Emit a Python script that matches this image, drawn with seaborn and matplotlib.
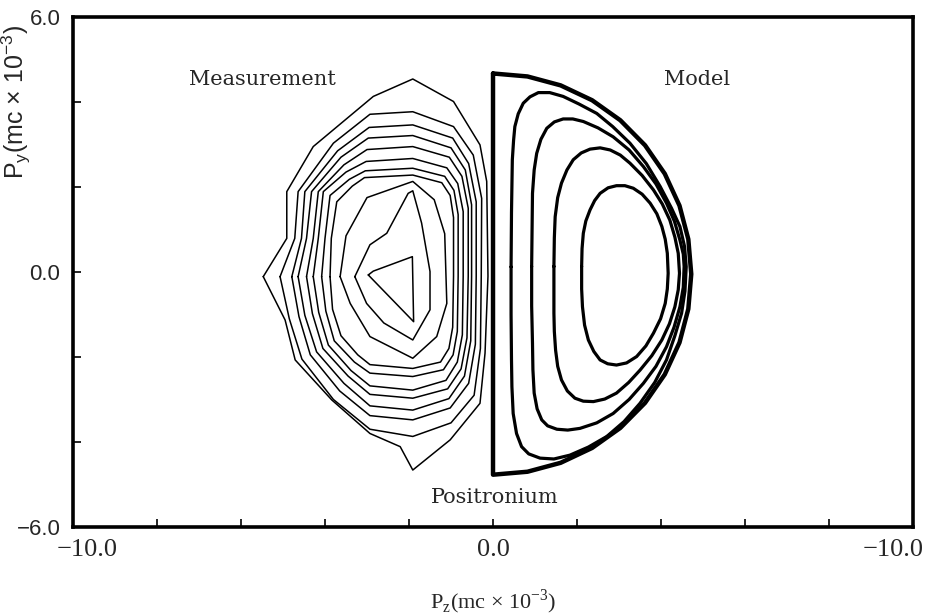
#!/usr/bin/env python3
"""Positronium momentum density: measured contours vs model contours."""

import numpy as np
import pandas as pd
import matplotlib
matplotlib.use("Agg")
import matplotlib.pyplot as plt
import matplotlib.transforms as mtransforms
import seaborn as sns

# Measured contours (left half), outermost first, each polygon closed
meas_x = [
    [-5.47, -4.91, -4.91, -4.28, -2.85, -1.91, -0.94, -0.31, -0.15, -0.12, -0.19, -0.31, -1.02, -1.91, -2.21, -2.93, -3.84, -4.71, -4.95, -5.47],
    [-5.07, -4.72, -4.64, -3.80, -2.93, -1.91, -0.94, -0.47, -0.27, -0.28, -0.30, -0.45, -1.00, -1.91, -2.93, -3.80, -4.55, -4.85, -5.07],
    [-4.79, -4.56, -4.48, -3.70, -2.95, -1.91, -0.96, -0.58, -0.40, -0.40, -0.42, -0.58, -1.02, -1.91, -2.93, -3.65, -4.35, -4.62, -4.79],
    [-4.64, -4.44, -4.32, -3.62, -2.97, -1.91, -1.00, -0.66, -0.51, -0.51, -0.53, -0.68, -1.05, -1.91, -2.93, -3.55, -4.20, -4.48, -4.64],
    [-4.44, -4.28, -4.16, -3.55, -3.00, -1.91, -1.04, -0.74, -0.59, -0.59, -0.62, -0.76, -1.08, -1.91, -2.93, -3.45, -4.05, -4.30, -4.44],
    [-4.28, -4.16, -4.04, -3.50, -3.02, -1.91, -1.10, -0.84, -0.71, -0.71, -0.73, -0.85, -1.12, -1.91, -2.93, -3.38, -3.92, -4.15, -4.28],
    [-4.08, -4.00, -3.88, -3.42, -3.04, -1.91, -1.15, -0.93, -0.83, -0.83, -0.85, -0.95, -1.18, -1.91, -2.93, -3.30, -3.78, -3.98, -4.08],
    [-3.88, -3.85, -3.72, -3.35, -3.06, -1.91, -1.22, -1.02, -0.94, -0.94, -0.96, -1.05, -1.25, -1.91, -2.93, -3.22, -3.62, -3.82, -3.88],
    [-3.64, -3.50, -3.00, -1.91, -1.40, -1.15, -1.10, -1.34, -1.91, -2.93, -3.40, -3.64],
    [-3.29, -2.93, -2.53, -2.02, -1.91, -1.70, -1.50, -1.50, -1.91, -2.60, -3.01, -3.29],
    [-2.97, -2.85, -1.92, -1.89, -2.97],
]
meas_y = [
    [-0.11, 0.79, 1.89, 2.95, 4.13, 4.54, 4.01, 2.99, 2.13, -0.10, -1.91, -3.09, -3.95, -4.66, -4.11, -3.80, -3.01, -2.07, -1.13, -0.11],
    [-0.11, 0.79, 1.89, 3.03, 3.71, 3.77, 3.42, 2.75, 1.73, -0.10, -1.80, -2.90, -3.55, -3.87, -3.70, -3.00, -2.05, -1.10, -0.11],
    [-0.11, 0.79, 1.89, 2.85, 3.40, 3.46, 3.15, 2.55, 1.65, -0.10, -1.70, -2.62, -3.20, -3.48, -3.38, -2.80, -1.95, -1.05, -0.11],
    [-0.11, 0.79, 1.89, 2.70, 3.15, 3.21, 2.92, 2.40, 1.58, -0.10, -1.62, -2.45, -2.98, -3.25, -3.15, -2.62, -1.88, -1.02, -0.11],
    [-0.11, 0.79, 1.89, 2.52, 2.88, 2.95, 2.70, 2.25, 1.50, -0.10, -1.55, -2.28, -2.75, -2.97, -2.88, -2.45, -1.80, -0.98, -0.11],
    [-0.11, 0.79, 1.89, 2.35, 2.60, 2.67, 2.45, 2.08, 1.42, -0.10, -1.48, -2.12, -2.55, -2.78, -2.68, -2.32, -1.72, -0.95, -0.11],
    [-0.11, 0.79, 1.80, 2.18, 2.38, 2.44, 2.25, 1.92, 1.35, -0.10, -1.40, -1.95, -2.30, -2.46, -2.38, -2.12, -1.62, -0.92, -0.11],
    [-0.11, 0.79, 1.65, 2.02, 2.22, 2.28, 2.10, 1.80, 1.28, -0.10, -1.30, -1.80, -2.12, -2.27, -2.18, -1.95, -1.50, -0.88, -0.11],
    [-0.11, 0.85, 1.75, 2.13, 1.70, 0.90, -0.74, -1.52, -2.03, -1.52, -0.74, -0.11],
    [-0.11, 0.64, 0.91, 1.85, 1.91, 1.15, 0.01, -0.89, -1.60, -1.20, -0.74, -0.11],
    [-0.07, 0.02, 0.36, -1.17, -0.07],
]

# Model contours (right half): boundary first, then inner levels
model_x = [
    [0.00, 0.82, 1.61, 2.36, 3.03, 3.62, 4.09, 4.44, 4.65, 4.72, 4.65, 4.44, 4.09, 3.62, 3.03, 2.36, 1.61, 0.82, 0.00, 0.00],
    [0.43, 0.44, 0.46, 0.49, 0.52, 0.60, 0.72, 0.88, 1.08, 1.35, 1.67, 2.05, 2.47, 2.85, 3.26, 3.65, 3.98, 4.25, 4.45, 4.56, 4.60,
     4.57, 4.49, 4.33, 4.13, 3.85, 3.50, 3.12, 2.71, 2.27, 1.83, 1.45, 1.12, 0.85, 0.68, 0.56, 0.48, 0.45, 0.44, 0.43, 0.43],
    [0.92, 0.93, 0.94, 0.98, 1.04, 1.14, 1.28, 1.46, 1.67, 1.90, 2.15, 2.50, 2.86, 3.24, 3.58, 3.88, 4.13, 4.32, 4.45, 4.53, 4.55,
     4.53, 4.45, 4.31, 4.13, 3.88, 3.58, 3.24, 2.86, 2.47, 2.07, 1.78, 1.52, 1.30, 1.16, 1.05, 0.98, 0.95, 0.94, 0.92, 0.92],
    [1.45, 1.46, 1.48, 1.54, 1.63, 1.76, 1.91, 2.10, 2.31, 2.55, 2.79, 3.03, 3.26, 3.55, 3.82, 4.03, 4.21, 4.33, 4.41, 4.44,
     4.41, 4.33, 4.20, 4.02, 3.78, 3.50, 3.23, 2.94, 2.66, 2.39, 2.15, 1.95, 1.77, 1.63, 1.54, 1.49, 1.46, 1.45, 1.45, 1.45],
    [2.11, 2.12, 2.15, 2.21, 2.31, 2.42, 2.55, 2.74, 2.94, 3.14, 3.34, 3.55, 3.74, 3.90, 4.02, 4.10, 4.15, 4.17,
     4.15, 4.10, 3.99, 3.82, 3.64, 3.42, 3.18, 2.94, 2.73, 2.55, 2.40, 2.27, 2.18, 2.13, 2.11, 2.11],
]
model_y = [
    [4.67, 4.60, 4.39, 4.04, 3.57, 2.98, 2.31, 1.56, 0.77, -0.05, -0.87, -1.66, -2.41, -3.08, -3.67, -4.14, -4.49, -4.70, -4.77, 4.67],
    [0.12, 1.40, 2.64, 3.10, 3.42, 3.72, 3.97, 4.12, 4.22, 4.22, 4.13, 3.95, 3.73, 3.42, 3.03, 2.55, 2.01, 1.50, 1.07, 0.60, 0.12,
     -0.45, -0.97, -1.50, -2.07, -2.60, -3.09, -3.52, -3.87, -4.12, -4.31, -4.40, -4.38, -4.28, -4.11, -3.80, -3.33, -2.70, -2.07, -1.00, 0.12],
    [0.13, 1.00, 1.85, 2.40, 2.79, 3.12, 3.38, 3.53, 3.60, 3.60, 3.54, 3.39, 3.18, 2.87, 2.48, 2.07, 1.62, 1.19, 0.75, 0.42, 0.13,
     -0.36, -0.82, -1.30, -1.76, -2.22, -2.62, -3.00, -3.33, -3.55, -3.68, -3.72, -3.70, -3.62, -3.48, -3.22, -2.85, -2.30, -1.68, -0.80, 0.13],
    [0.13, 0.80, 1.30, 1.75, 2.09, 2.40, 2.64, 2.80, 2.89, 2.92, 2.87, 2.75, 2.56, 2.27, 1.93, 1.60, 1.22, 0.82, 0.44, -0.03,
     -0.42, -0.82, -1.22, -1.60, -1.97, -2.31, -2.60, -2.85, -2.99, -3.05, -3.04, -2.97, -2.80, -2.54, -2.22, -1.84, -1.40, -0.97, -0.40, 0.13],
    [0.13, 0.55, 0.91, 1.20, 1.46, 1.68, 1.85, 1.98, 2.03, 2.03, 1.97, 1.83, 1.62, 1.37, 1.07, 0.77, 0.44, -0.03,
     -0.40, -0.74, -1.10, -1.44, -1.74, -1.99, -2.14, -2.19, -2.16, -2.07, -1.87, -1.60, -1.25, -0.82, -0.40, 0.13],
]

x_ticks = [-10, -8, -6, -4, -2, 0, 2, 4, 6, 8, 10]
x_tick_labels = ["\u221210.0", "", "", "", "", "0.0", "", "", "", "", "\u221210.0"]
y_ticks = [-6, -4, -2, 0, 2, 4, 6]
y_tick_labels = ["\u22126.0", "", "", "0.0", "", "", "6.0"]


def contours_frame(xs, ys):
    rows = []
    for i, (cx, cy) in enumerate(zip(xs, ys)):
        for j, (px, py) in enumerate(zip(cx, cy)):
            rows.append({"contour": i, "order": j, "pz": px, "py": py})
    return pd.DataFrame(rows)


meas_df = contours_frame(meas_x, meas_y)
model_df = contours_frame(model_x, model_y)

sns.set_style("white")
plt.rcParams["font.family"] = ["DejaVu Serif"]

fig = plt.figure(figsize=(9.31, 6.16), dpi=100)
ax = fig.add_axes([0.0784, 0.1445, 0.9023, 0.828])

sns.lineplot(data=meas_df, x="pz", y="py", units="contour", estimator=None,
             sort=False, color="black", linewidth=1.1, legend=False, ax=ax)
sns.lineplot(data=model_df[model_df["contour"] > 0], x="pz", y="py", units="contour",
             estimator=None, sort=False, color="black", linewidth=2.3, legend=False, ax=ax)
sns.lineplot(data=model_df[model_df["contour"] == 0], x="pz", y="py", units="contour",
             estimator=None, sort=False, color="black", linewidth=3.2, legend=False, ax=ax)

ax.set_xlim(-10, 10)
ax.set_ylim(-6, 6)
ax.set_xticks(x_ticks)
ax.set_xticklabels(x_tick_labels, family="Liberation Serif", fontsize=19)
ax.set_yticks(y_ticks)
ax.set_yticklabels(y_tick_labels, family="Liberation Sans", fontsize=16)
ax.tick_params(direction="in", length=6, width=1.2, color="black",
               bottom=True, left=True, top=False, right=False)
ax.tick_params(axis="x", pad=9)
ax.tick_params(axis="y", pad=9)
for s in ax.spines.values():
    s.set_linewidth(2.6)
    s.set_color("black")

# end labels sit a little inside the axis ends, as in the original figure
xlabels = ax.get_xticklabels()
xlabels[0].set_transform(xlabels[0].get_transform()
                         + mtransforms.ScaledTranslation(10 / 72, 0, fig.dpi_scale_trans))
xlabels[-1].set_transform(xlabels[-1].get_transform()
                          + mtransforms.ScaledTranslation(-14 / 72, 0, fig.dpi_scale_trans))

ax.set_xlabel(r"P$_\mathregular{z}$(mc × 10$^{\mathregular{-3}}$)", family="Liberation Serif",
              fontsize=16)
ax.xaxis.set_label_coords(0.5, -0.118)
ax.set_ylabel(r"P$_\mathregular{y}$(mc × 10$^{\mathregular{-3}}$)", family="Liberation Sans",
              fontsize=18)
ax.yaxis.set_label_coords(-0.048, 0.833)

ax.text(-5.48, 4.52, "Measurement", ha="center", va="center", fontsize=15)
ax.text(4.86, 4.52, "Model", ha="center", va="center", fontsize=15)
ax.text(0.05, -5.3, "Positronium", ha="center", va="center", fontsize=15)

fig.savefig("out.png", dpi=100, facecolor="white")
